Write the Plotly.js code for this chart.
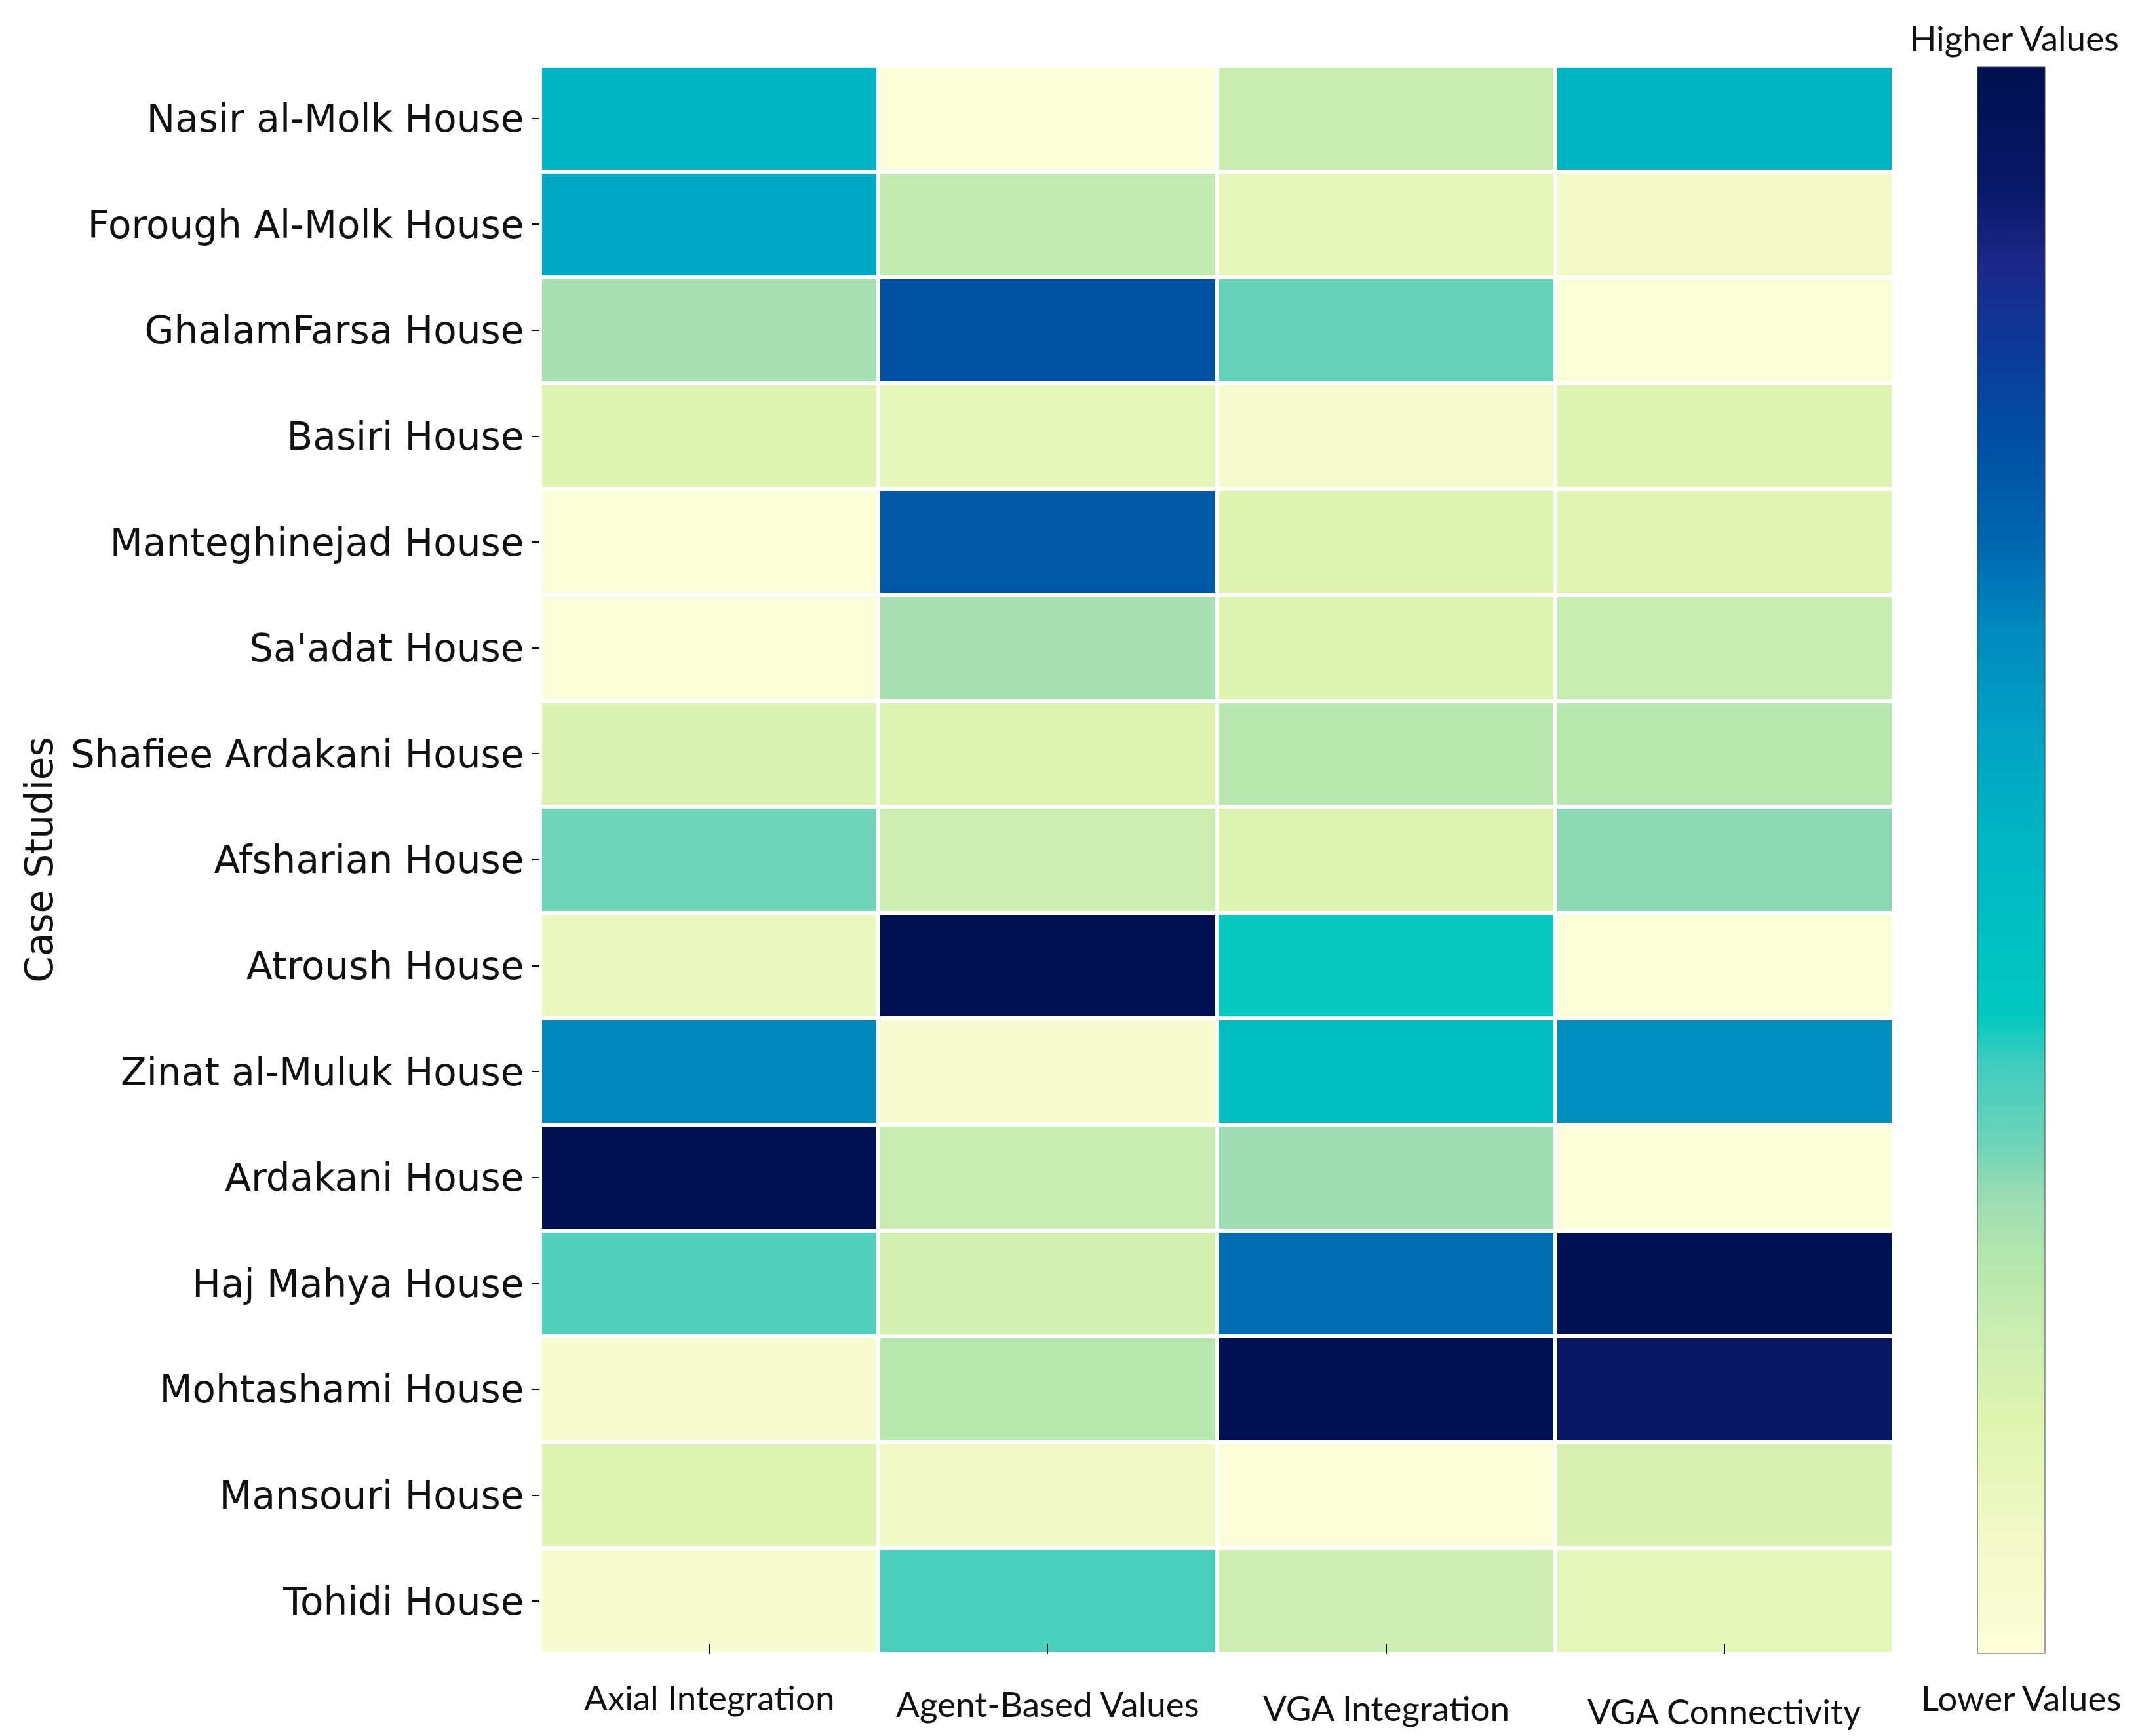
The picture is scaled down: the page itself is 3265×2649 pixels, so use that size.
<!DOCTYPE html>
<html>
<head>
<meta charset="utf-8">
<script src="https://cdn.plot.ly/plotly-3.0.1.min.js"></script>
<style>html,body{margin:0;padding:0;background:#fff;}</style>
</head>
<body>
<div id="chart" style="width:3265px;height:2649px;"></div>
<script>
const caseStudies = [
  "Nasir al-Molk House", "Forough Al-Molk House", "GhalamFarsa House", "Basiri House",
  "Manteghinejad House", "Sa'adat House", "Shafiee Ardakani House", "Afsharian House",
  "Atroush House", "Zinat al-Muluk House", "Ardakani House", "Haj Mahya House",
  "Mohtashami House", "Mansouri House", "Tohidi House"
];
const metrics = ["Axial Integration", "Agent-Based Values", "VGA Integration", "VGA Connectivity"];

const axialIntegration = [0.52, 0.56, 0.27, 0.15, 0.01, 0.01, 0.16, 0.32, 0.10, 0.65, 1.00, 0.35, 0.04, 0.15, 0.04];
const agentBasedValues = [0.01, 0.22, 0.76, 0.12, 0.74, 0.27, 0.15, 0.20, 1.00, 0.04, 0.21, 0.18, 0.24, 0.08, 0.36];
const vgaIntegration   = [0.21, 0.12, 0.33, 0.06, 0.15, 0.15, 0.24, 0.15, 0.40, 0.47, 0.28, 0.69, 0.99, 0.02, 0.20];
const vgaConnectivity  = [0.52, 0.07, 0.02, 0.15, 0.14, 0.21, 0.24, 0.30, 0.02, 0.63, 0.01, 0.99, 0.93, 0.17, 0.12];

const colorbarTop = "Higher Values";
const colorbarBottom = "Lower Values";
const yTitle = "Case Studies";

const series = [axialIntegration, agentBasedValues, vgaIntegration, vgaConnectivity];
const z = caseStudies.map((_, i) => series.map(s => s[i]));

const colorscale = [
  [0, '#fefedc'], [0.08, '#f0f8c4'], [0.145, '#e0f4b0'], [0.21, '#c8ecb0'],
  [0.258, '#b0e4b0'], [0.29, '#98dcb4'], [0.323, '#6cd4b8'], [0.371, '#40ccbe'],
  [0.404, '#00c8c0'], [0.519, '#00b4c4'], [0.584, '#00a0c4'], [0.648, '#0088bc'],
  [0.697, '#0068b0'], [0.762, '#0050a4'], [0.827, '#0c3898'], [0.875, '#1c2888'],
  [0.924, '#081868'], [1, '#001050']
];

const W = 3265, H = 2649;
const L = 824, R = W - 2889, T = 100, B = H - 2524;
const pw = W - L - R, ph = H - T - B;

const trace = {
  type: 'heatmap',
  x: metrics,
  y: caseStudies,
  z: z,
  zmin: 0, zmax: 1,
  colorscale: colorscale,
  xgap: 6, ygap: 6,
  showscale: true,
  colorbar: {
    thicknessmode: 'pixels', thickness: 103,
    lenmode: 'pixels', len: 2421,
    x: (3017 - L) / pw, xanchor: 'left', xpad: 0,
    y: 1 - 2 / ph, yanchor: 'top', ypad: 0,
    showticklabels: false, ticks: '',
    outlinewidth: 1, outlinecolor: '#444'
  }
};

const labelFont = {family: 'Lato, sans-serif', size: 53, color: '#111'};
const xLabelShift = [0, -10, -16, -21];
const annotations = metrics.map((m, i) => ({
  x: m, xref: 'x', y: 0, yref: 'paper', yanchor: 'middle',
  yshift: -(2589 - 2524) + xLabelShift[i],
  text: m, showarrow: false,
  font: labelFont
}));
annotations.push({
  x: (3073 - L) / pw, xref: 'paper', y: 1 + (T - 57) / ph, yref: 'paper',
  xanchor: 'center', yanchor: 'middle', text: colorbarTop, showarrow: false,
  font: labelFont
});
annotations.push({
  x: (3083 - L) / pw, xref: 'paper', y: -(2590 - 2524) / ph, yref: 'paper',
  xanchor: 'center', yanchor: 'middle', text: colorbarBottom, showarrow: false,
  font: labelFont
});

const layout = {
  width: W, height: H,
  margin: {l: L, r: R, t: T, b: B, pad: 0},
  paper_bgcolor: '#fff', plot_bgcolor: '#fff',
  font: {family: 'DejaVu Sans, sans-serif', color: '#111'},
  xaxis: {
    type: 'category', showticklabels: false,
    ticks: 'inside', ticklen: 16, tickwidth: 2, tickcolor: '#111',
    showgrid: false, zeroline: false, showline: false, fixedrange: true
  },
  yaxis: {
    type: 'category', autorange: 'reversed',
    ticks: 'outside', ticklen: 12, tickwidth: 2, tickcolor: '#111',
    tickfont: {family: 'DejaVu Sans, sans-serif', size: 58, color: '#111'},
    showgrid: false, zeroline: false, showline: false,
    title: {text: yTitle, font: {family: 'DejaVu Sans, sans-serif', size: 58, color: '#111'}, standoff: 8},
    automargin: false
  },
  annotations: annotations
};

Plotly.newPlot('chart', [trace], layout, {displayModeBar: false, staticPlot: true});
</script>
</body>
</html>
